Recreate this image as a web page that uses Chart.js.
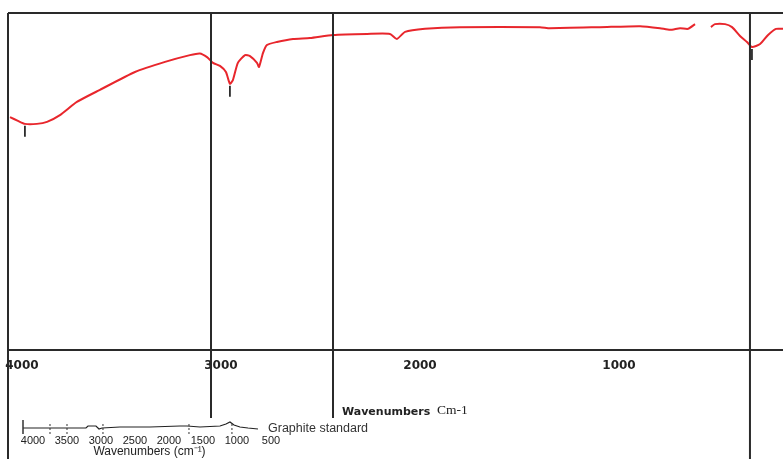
<!DOCTYPE html>
<html lang="en">
<head>
  <meta charset="UTF-8">
  <title>FTIR spectrum</title>
  <script src="https://cdn.jsdelivr.net/npm/chart.js"></script>
  <style>
    body {
      margin: 0;
      background-color: #fff;
      width: 783px;
      height: 459px;
      position: relative;
      overflow: hidden;
    }
    canvas {
      position: absolute;
      left: 0;
    }
    #mainChart { top: 0; }
    #insetChart { top: 414px; }
    .label {
      position: absolute;
      line-height: 1;
      white-space: nowrap;
      color: #222;
    }
    .axis-title { font: bold 11px 'DejaVu Sans', sans-serif; left: 342px; top: 405px; }
    .axis-unit { font: 13.5px 'Liberation Serif', serif; left: 437px; top: 402px; }
    .inset-name { font: 12.5px 'Liberation Sans', sans-serif; left: 268px; top: 421px; color: #333; }
  </style>
</head>
<body>
  <canvas id="mainChart" width="783" height="459"></canvas>
  <canvas id="insetChart" width="300" height="45"></canvas>
  <div class="label axis-title">Wavenumbers</div>
  <div class="label axis-unit">Cm-1</div>
  <div class="label inset-name">Graphite standard</div>

  <script>
    // main spectrum
    const wavenumbers = [4060, 4020, 3985, 3925, 3874, 3809, 3724, 3608, 3432, 3281, 3156, 3106, 3070, 3040, 3005, 2975, 2955, 2940, 2915, 2879, 2854, 2819, 2809, 2789, 2769, 2719, 2638, 2553, 2437, 2266, 2151, 2116, 2075, 1975, 1799, 1397, 1347, 1096, 894, 794, 744, 693, 653, 618, 580, 538, 518, 467, 432, 392, 357, 332, 291, 251, 211, 176];
    const transmittance = [69.1, 68.0, 67.1, 67.1, 67.7, 69.7, 73.6, 77.2, 82.5, 85.5, 87.5, 88.0, 86.9, 85.2, 84.3, 82.5, 79.0, 80.1, 85.2, 87.5, 87.2, 85.2, 84.0, 88.1, 90.5, 91.4, 92.3, 92.6, 93.5, 93.8, 93.8, 92.3, 94.4, 95.3, 95.8, 95.8, 95.5, 95.8, 96.1, 95.5, 95.0, 95.5, 95.3, 96.7, null, 95.8, 96.7, 96.7, 95.8, 93.2, 91.4, 89.9, 90.8, 93.5, 95.3, 95.3];
    const xTicks = [4000, 3000, 2000, 1000];
    const markerLines = [3050, 2437, 342];
    const peakMarks = [3985, 2955, 332];

    // graphite standard inset
    const insetWavenumbers = [4147, 3603, 3221, 3191, 3074, 3029, 2985, 2721, 2279, 1838, 1735, 1544, 1250, 1162, 1103, 1044, 956, 838, 691];
    const insetSignal = [6, 6, 6, 8, 8, 5, 6, 7, 7, 8, 8, 7, 8, 10, 12, 9, 7, 6, 5];
    const insetTicks = [4000, 3500, 3000, 2500, 2000, 1500, 1000, 500];
    const insetMarkers = [3750, 3500, 2971, 1706, 1074];

    const frameColor = '#2a2a2a';

    const framePlugin = {
      id: 'frame',
      afterDatasetsDraw(chart, args, opts) {
        const { ctx, chartArea, scales } = chart;
        const x = scales.x;
        ctx.save();
        ctx.strokeStyle = frameColor;
        ctx.lineWidth = 2;
        // top and left border
        ctx.beginPath();
        ctx.moveTo(chartArea.left, chartArea.top);
        ctx.lineTo(chartArea.right, chartArea.top);
        ctx.moveTo(chartArea.left, chartArea.top);
        ctx.lineTo(chartArea.left, chart.height);
        ctx.stroke();
        // vertical marker lines
        markerLines.forEach((v, i) => {
          const px = x.getPixelForValue(v);
          ctx.beginPath();
          ctx.moveTo(px, chartArea.top);
          ctx.lineTo(px, chartArea.bottom + opts.extend[i]);
          ctx.stroke();
        });
        // small ticks under the peaks
        const pts = chart.getDatasetMeta(0).data;
        ctx.lineWidth = 1.8;
        peakMarks.forEach(v => {
          const p = pts[wavenumbers.indexOf(v)];
          ctx.beginPath();
          ctx.moveTo(p.x, p.y + 2);
          ctx.lineTo(p.x, p.y + 13);
          ctx.stroke();
        });
        ctx.restore();
      }
    };

    new Chart(document.getElementById('mainChart'), {
      type: 'line',
      data: {
        datasets: [{
          data: wavenumbers.map((w, i) => ({ x: w, y: transmittance[i] })),
          borderColor: '#e8262c',
          borderWidth: 2,
          pointRadius: 0,
          tension: 0.2,
          spanGaps: false
        }]
      },
      options: {
        responsive: false,
        animation: false,
        layout: { padding: { left: 8, top: 13, right: 0, bottom: 0 } },
        plugins: {
          legend: { display: false },
          tooltip: { enabled: false },
          frame: { extend: [68, 68, 109] }
        },
        scales: {
          x: {
            type: 'linear',
            reverse: true,
            min: 176,
            max: 4070,
            afterBuildTicks: s => { s.ticks = xTicks.map(v => ({ value: v })); },
            afterFit: s => { s.height = 109; s.paddingLeft = 0; s.paddingRight = 0; },
            grid: { display: false, drawTicks: false },
            border: { display: true, color: frameColor, width: 2 },
            ticks: {
              padding: 9,
              color: '#222',
              font: { family: 'DejaVu Sans', size: 12, weight: 'bold' },
              callback: v => String(v)
            }
          },
          y: { display: false, min: 0, max: 100 }
        }
      },
      plugins: [framePlugin]
    });

    const insetPlugin = {
      id: 'insetMarks',
      afterDatasetsDraw(chart) {
        const { ctx, chartArea, scales } = chart;
        ctx.save();
        ctx.strokeStyle = '#333';
        ctx.lineWidth = 1.5;
        ctx.beginPath();
        ctx.moveTo(chartArea.left, chartArea.top + 6);
        ctx.lineTo(chartArea.left, chartArea.bottom);
        ctx.stroke();
        ctx.lineWidth = 1;
        ctx.setLineDash([2, 2]);
        insetMarkers.forEach(v => {
          const px = scales.x.getPixelForValue(v);
          ctx.beginPath();
          ctx.moveTo(px, chartArea.top + 10);
          ctx.lineTo(px, chartArea.bottom);
          ctx.stroke();
        });
        ctx.restore();
      }
    };

    new Chart(document.getElementById('insetChart'), {
      type: 'line',
      data: {
        datasets: [{
          data: insetWavenumbers.map((w, i) => ({ x: w, y: insetSignal[i] })),
          borderColor: '#222',
          borderWidth: 1.2,
          pointRadius: 0,
          tension: 0
        }]
      },
      options: {
        responsive: false,
        animation: false,
        layout: { padding: { left: 23, right: 24, top: 0, bottom: 0 } },
        plugins: { legend: { display: false }, tooltip: { enabled: false } },
        scales: {
          x: {
            type: 'linear',
            reverse: true,
            min: 426,
            max: 4147,
            afterBuildTicks: s => { s.ticks = insetTicks.map(v => ({ value: v })); },
            afterFit: s => { s.height = 25; },
            grid: { display: false, drawTicks: false },
            border: { display: false },
            ticks: {
              padding: 0,
              color: '#222',
              font: { family: 'Liberation Sans', size: 11 },
              callback: v => String(v)
            },
            title: {
              display: true,
              text: 'Wavenumbers (cm\u207B\u00B9)',
              color: '#222',
              padding: 0,
              font: { family: 'Liberation Sans', size: 12 }
            }
          },
          y: { display: false, min: 0, max: 20 }
        }
      },
      plugins: [insetPlugin]
    });
  </script>
</body>
</html>
